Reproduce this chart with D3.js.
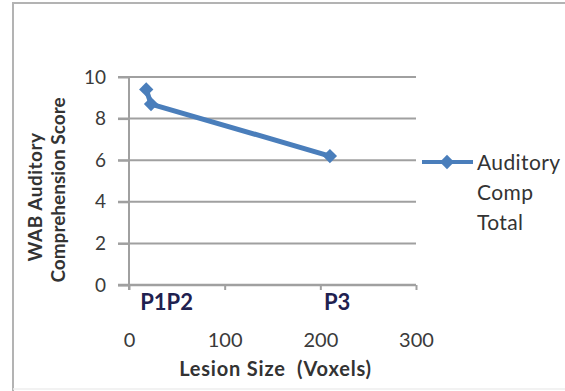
<!DOCTYPE html>
<html>
<head>
<meta charset="utf-8">
<script src="https://cdn.jsdelivr.net/npm/d3@7"></script>
<style>
html,body{margin:0;padding:0;background:#fff;}
svg{display:block;}
text{font-family:Lato,"Open Sans",sans-serif;}
</style>
</head>
<body>
<svg id="c" width="565" height="391"></svg>
<script>
const pointNames = ["P1", "P2", "P3"];
const lesionSize = [18, 23, 210];
const wabScore = [9.4, 8.7, 6.2];
const pointLabels = [{text: "P1P2", x: 18}, {text: "P3", x: 210}];
const xTicks = [0, 100, 200, 300];
const yTicks = [0, 2, 4, 6, 8, 10];
const seriesName = ["Auditory", "Comp", "Total"];

const svg = d3.select("#c");
const x = d3.scaleLinear().domain([0, 300]).range([129, 416]);
const y = d3.scaleLinear().domain([0, 10]).range([285, 77]);

// outer border
svg.append("path").attr("d", "M13,391 V3 H565").attr("fill", "none")
  .attr("stroke", "#b3b3b3").attr("stroke-width", 2);
svg.append("line").attr("x1", 13).attr("x2", 565).attr("y1", 389).attr("y2", 389)
  .attr("stroke", "#eee").attr("stroke-width", 1.5);

// gridlines
svg.append("g").selectAll("line").data(yTicks.filter(d => d > 0)).join("line")
  .attr("x1", 118).attr("x2", x(300)).attr("y1", d => y(d)).attr("y2", d => y(d))
  .attr("stroke", "#a0a0a0").attr("stroke-width", 2);

// y axis
const yAxis = svg.append("g").attr("transform", `translate(${x(0)},0)`)
  .call(d3.axisLeft(y).tickValues(yTicks).tickSize(11).tickPadding(12));
yAxis.select(".domain").attr("stroke", "#a0a0a0").attr("stroke-width", 2)
  .attr("d", `M0,${y(10)}V${y(0)+5}`);
yAxis.selectAll(".tick line").attr("stroke", "#a0a0a0").attr("stroke-width", 2);
yAxis.selectAll(".tick text").attr("fill", "#3a3a3a").style("font-size", "19px")
  .style("font-family", "Lato,sans-serif");

// x axis
const xAxis = svg.append("g").attr("transform", `translate(0,${y(0)})`)
  .call(d3.axisBottom(x).tickValues(xTicks).tickSize(5).tickPadding(43));
xAxis.select(".domain").attr("stroke", "#a0a0a0").attr("stroke-width", 2.5)
  .attr("d", `M118,0H${x(300)}`);
xAxis.selectAll(".tick line").attr("stroke", "#a0a0a0").attr("stroke-width", 2);
xAxis.selectAll(".tick text").attr("fill", "#3a3a3a").style("font-size", "20px")
  .style("font-family", "Lato,sans-serif");

// line
const pts = lesionSize.map((v, i) => [v, wabScore[i]]);
svg.append("path").datum(pts)
  .attr("d", d3.line().x(d => x(d[0])).y(d => y(d[1])))
  .attr("fill", "none").attr("stroke", "#4a7ebb").attr("stroke-width", 5)
  .attr("stroke-linejoin", "round");
const diamond = d3.symbol().type(d3.symbolDiamond2).size(130);
svg.append("g").selectAll("path").data(pts).join("path")
  .attr("transform", d => `translate(${x(d[0])},${y(d[1])})`)
  .attr("d", diamond).attr("fill", "#4a7ebb");

// point labels
svg.append("g").selectAll("text").data(pointLabels).join("text")
  .attr("x", d => x(d.x) - 6).attr("y", 310)
  .attr("fill", "#1f2150").style("font-size", "22px").style("font-weight", "bold")
  .text(d => d.text);

// axis titles
svg.append("text").attr("x", (x(0) + x(300)) / 2 + 3).attr("y", 376)
  .attr("text-anchor", "middle").attr("fill", "#333")
  .style("font-size", "20px").style("font-weight", "bold").style("letter-spacing", "0.8px")
  .attr("xml:space", "preserve").text("Lesion Size  (Voxels)");
svg.append("text").attr("transform", "translate(42,197) rotate(-90)")
  .attr("text-anchor", "middle").attr("fill", "#333")
  .style("font-size", "19px").style("font-weight", "bold").style("letter-spacing", "0.5px")
  .text("WAB Auditory");
svg.append("text").attr("transform", "translate(65,190) rotate(-90)")
  .attr("text-anchor", "middle").attr("fill", "#333")
  .style("font-size", "19px").style("font-weight", "bold").text("Comprehension Score");

// legend
svg.append("line").attr("x1", 422).attr("x2", 473).attr("y1", 162).attr("y2", 162)
  .attr("stroke", "#4a7ebb").attr("stroke-width", 4);
svg.append("path").attr("transform", "translate(447,162)").attr("d", diamond)
  .attr("fill", "#4a7ebb");
svg.append("g").selectAll("text").data(seriesName).join("text")
  .attr("x", 477).attr("y", (d, i) => 170 + i * 30)
  .attr("fill", "#333").style("font-size", "21px").style("letter-spacing", "0.4px")
  .text(d => d);
</script>
</body>
</html>
